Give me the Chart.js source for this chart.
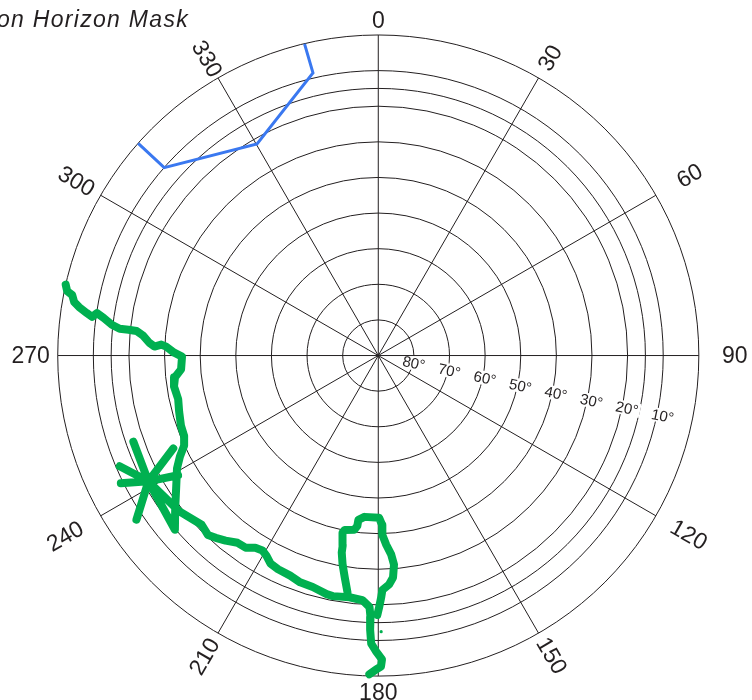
<!DOCTYPE html>
<html>
<head>
<meta charset="utf-8">
<script src="https://cdn.jsdelivr.net/npm/chart.js@4/dist/chart.umd.min.js"></script>
<style>
  html, body { margin: 0; padding: 0; background: #fff; overflow: hidden; }
  canvas { display: block; }
</style>
</head>
<body>
<canvas id="chart" width="752" height="700"></canvas>
<script>
const titleText = "Obstruction Horizon Mask";

const azimuthTicks = [0, 30, 60, 90, 120, 150, 180, 210, 240, 270, 300, 330];
const elevationRings = [0, 10, 15, 20, 30, 40, 50, 60, 70, 80];
const elevationLabels = [80, 70, 60, 50, 40, 30, 20, 10];

// blue mask segment (azimuth deg, elevation deg)
const blueAz = [311.5, 311.3, 330.2, 347.0, 346.7];
const blueEl = [0, 10, 21.5, 8.5, 0];

// green trace, main run
const greenAz = [
  282.8, 281.7, 281.2, 280.0, 279.2, 278.3, 277.7, 278.6, 277.8, 276.6,
  275.9, 275.9, 275.8, 274.8, 273.2, 272.3, 272.9, 272.4, 270.8, 269.7,
  266.0, 263.9, 261.4, 257.7, 254.2, 250.4, 247.5, 245.1, 243.0, 240.7,
  236.7, 233.1, 229.4, 241.3, 250.6, 241.3, 246.8, 241.3, 243.6, 241.3,
  235.8, 241.3, 245.6, 241.3, 239.1, 241.3, 232.0, 226.2, 223.5, 221.7,
  219.5, 216.9, 214.6, 212.6, 210.7, 209.2, 207.4, 205.1, 201.8, 199.0,
  195.8, 192.2, 190.7, 186.8, 183.7, 182.0, 181.7, 181.7, 181.4, 180.4,
  179.3, 179.5, 180.4, 181.6
];
const greenEl = [
  0, 0.8, 2.4, 3.3, 4.9, 7.3, 8.9, 10.1, 12.2, 14.7,
  17.0, 19.5, 21.8, 23.8, 25.6, 27.1, 29.0, 30.4, 32.7, 34.9,
  34.5, 32.6, 32.0, 32.5, 31.9, 31.2, 31.0, 29.9, 27.5, 25.2,
  22.1, 18.7, 14.8, 16.4, 17.1, 16.4, 11.0, 16.4, 9.3, 16.4,
  7.9, 16.4, 26.8, 16.4, 24.5, 16.4, 19.0, 21.3, 20.5, 21.4,
  22.6, 24.2, 24.4, 25.9, 26.3, 25.6, 24.2, 23.7, 23.4, 22.6,
  22.4, 21.4, 21.2, 21.6, 21.1, 19.3, 16.5, 12.9, 9.0, 6.8,
  4.6, 2.6, 1.8, 0.4
];

// green trace, loop near 180
const loopAz = [
  187.4, 188.6, 189.7, 190.5, 190.6, 191.4, 190.9, 187.8, 187.0, 186.9,
  184.9, 179.7, 178.7, 178.7, 177.6, 176.3, 175.7, 176.2, 177.3, 179.0,
  179.3, 179.8, 180.2
];
const loopEl = [
  22.9, 27.0, 30.5, 33.7, 35.7, 39.2, 40.1, 40.6, 41.8, 43.5,
  44.5, 44.4, 42.4, 39.6, 36.8, 34.0, 31.1, 27.5, 25.6, 24.1,
  22.1, 19.3, 17.1
];

const dotAz = [179.4];
const dotEl = [12.4];

function toXY(az, el) {
  return az.map((a, i) => {
    const r = 90 - el[i];
    const t = a * Math.PI / 180;
    return { x: r * Math.sin(t), y: r * Math.cos(t) };
  });
}

const pxPerDeg = 3.6;
const centerX = 378.3, centerY = 355.6;

// how far (px) each azimuth label sits outside the outer ring
const labelGap = { 0: 14, 30: 23, 60: 39, 90: 36, 120: 38, 150: 26, 180: 17, 210: 27, 240: 41, 270: 27, 300: 28, 330: 22 };

const polarGrid = {
  id: "polarGrid",
  beforeDatasetsDraw(chart) {
    const { ctx, scales: { x, y } } = chart;
    const cx = x.getPixelForValue(0);
    const cy = y.getPixelForValue(0);
    const rad = el => x.getPixelForValue(90 - el) - cx;
    const R = rad(0);
    const ink = "#231f20";

    ctx.save();
    ctx.strokeStyle = ink;
    ctx.lineWidth = 1;
    elevationRings.forEach(el => {
      ctx.beginPath();
      ctx.arc(cx, cy, rad(el), 0, Math.PI * 2);
      ctx.stroke();
    });

    // elevation labels with white box over the rings
    ctx.font = "15px 'Liberation Sans', Arial, sans-serif";
    ctx.textAlign = "center";
    ctx.textBaseline = "middle";
    const la = 102 * Math.PI / 180;
    elevationLabels.forEach(el => {
      const r = rad(el) * 1.02;
      const txt = el + "\u00b0";
      const w = ctx.measureText(txt).width;
      ctx.save();
      ctx.translate(cx + r * Math.sin(la), cy - r * Math.cos(la));
      ctx.rotate(12 * Math.PI / 180);
      ctx.fillStyle = "#fff";
      ctx.fillRect(-w / 2 - 2, -7, w + 4, 14);
      ctx.fillStyle = ink;
      ctx.fillText(txt, 0, 1);
      ctx.restore();
    });

    azimuthTicks.forEach(az => {
      const a = az * Math.PI / 180;
      ctx.beginPath();
      ctx.moveTo(cx, cy);
      ctx.lineTo(cx + R * Math.sin(a), cy - R * Math.cos(a));
      ctx.stroke();
    });

    // azimuth labels
    ctx.font = "23px 'Liberation Sans', Arial, sans-serif";
    ctx.fillStyle = ink;
    azimuthTicks.forEach(az => {
      const a = az * Math.PI / 180;
      const upright = az === 0 || az === 180;
      const r = R + labelGap[az];
      const rot = upright ? 0 : (az < 180 ? az - 90 : az - 270);
      ctx.save();
      ctx.translate(cx + r * Math.sin(a), cy - r * Math.cos(a));
      ctx.rotate(rot * Math.PI / 180);
      ctx.fillText(String(az), 0, 1);
      ctx.restore();
    });

    // title, cut by the left edge
    ctx.font = "italic 23px 'Liberation Sans', Arial, sans-serif";
    ctx.letterSpacing = "1.3px";
    ctx.textAlign = "right";
    ctx.textBaseline = "alphabetic";
    ctx.fillText(titleText, 189, 27);
    ctx.restore();
  }
};

const lineStyle = {
  showLine: true,
  pointRadius: 0,
  borderJoinStyle: "round",
  borderCapStyle: "round",
  tension: 0
};

new Chart(document.getElementById("chart"), {
  type: "scatter",
  data: {
    datasets: [
      { ...lineStyle, data: toXY(greenAz, greenEl), borderColor: "#00b050", borderWidth: 8 },
      { ...lineStyle, data: toXY(loopAz, loopEl), borderColor: "#00b050", borderWidth: 8 },
      { data: toXY(dotAz, dotEl), pointRadius: 1.6, backgroundColor: "#00b050", borderWidth: 0 },
      { ...lineStyle, data: toXY(blueAz, blueEl), borderColor: "#3a78f0", borderWidth: 3, borderCapStyle: "butt", borderJoinStyle: "miter" }
    ]
  },
  options: {
    responsive: false,
    animation: false,
    events: [],
    layout: { padding: 0 },
    plugins: { legend: { display: false }, tooltip: { enabled: false } },
    scales: {
      x: { type: "linear", display: false, min: -centerX / pxPerDeg, max: (752 - centerX) / pxPerDeg },
      y: { type: "linear", display: false, min: -(700 - centerY) / pxPerDeg, max: centerY / pxPerDeg }
    }
  },
  plugins: [polarGrid]
});
</script>
</body>
</html>
